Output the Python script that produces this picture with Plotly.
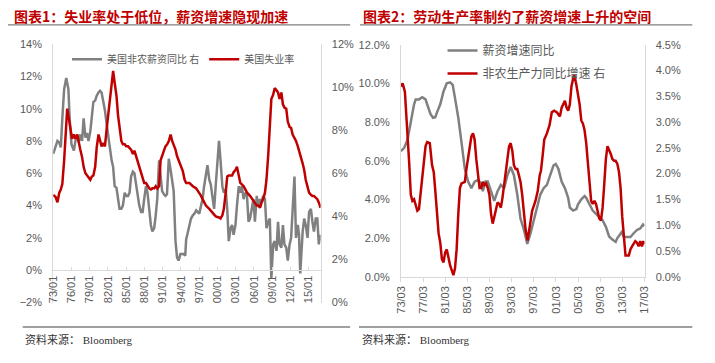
import plotly.graph_objects as go

# ---------------- Panel 1 data ----------------
p1_wage_x = [1973.0, 1973.4, 1973.7, 1974.0, 1974.25, 1974.5, 1974.8, 1975.15, 1975.5, 1975.7,
             1976.0, 1976.4, 1976.65, 1976.95, 1977.2, 1977.45, 1977.75, 1978.0, 1978.3, 1978.55,
             1978.8, 1979.1, 1979.35, 1979.6, 1979.9, 1980.15, 1980.45, 1980.7, 1980.95, 1981.25,
             1981.5, 1981.8, 1982.05, 1982.3, 1982.6, 1982.85, 1983.1, 1983.4, 1983.65, 1983.9,
             1984.2, 1984.45, 1984.75, 1985.0, 1985.3, 1985.55, 1985.8, 1986.1, 1986.35, 1986.6,
             1986.9, 1987.15, 1987.45, 1987.7, 1987.95, 1988.25, 1988.5, 1988.8, 1989.05, 1989.3,
             1989.6, 1989.85, 1990.1, 1990.4, 1990.65, 1990.9, 1991.2, 1991.45, 1991.7, 1992.0,
             1992.3, 1992.55, 1992.8, 1993.1, 1993.35, 1993.6, 1993.9, 1994.15, 1994.45, 1994.7,
             1994.85, 1995.1, 1995.4, 1995.65, 1995.95, 1996.2, 1996.5, 1996.75, 1997.0, 1997.3,
             1997.55, 1997.8, 1998.1, 1998.35, 1998.65, 1998.9, 1999.15, 1999.45, 1999.7, 2000.0,
             2000.25, 2000.5, 2000.8, 2001.05, 2001.35, 2001.6, 2001.85, 2002.15, 2002.4, 2002.65,
             2002.95, 2003.2, 2003.5, 2003.75, 2004.0, 2004.3, 2004.55, 2004.85, 2005.1, 2005.35,
             2005.65, 2005.9, 2006.15, 2006.45, 2006.7, 2007.0, 2007.25, 2007.5, 2007.8, 2008.05,
             2008.35, 2008.6, 2008.85, 2009.15, 2009.4, 2009.7, 2009.95, 2010.2, 2010.5, 2010.75,
             2011.0, 2011.3, 2011.55, 2011.85, 2012.1, 2012.35, 2012.65, 2012.9, 2013.2, 2013.4,
             2013.6, 2014.0, 2014.25, 2014.5, 2014.8, 2015.05, 2015.35, 2015.6, 2015.85, 2016.15,
             2016.4, 2016.65, 2016.94]
p1_wage = [7.2, 7.6, 8.0, 7.9, 7.6, 9.4, 11.2, 11.9, 11.2, 9.4,
           7.8, 7.4, 8.0, 8.4, 7.9, 8.4, 8.0, 9.4, 8.2, 8.5,
           8.0, 8.6, 9.4, 10.4, 10.5, 10.8, 11.0, 11.1, 11.0, 10.4,
           9.9, 9.0, 8.2, 7.6, 6.8, 6.4, 5.2, 5.1, 4.4, 3.8,
           3.8, 4.0, 4.8, 4.6, 4.6, 4.8, 5.8, 6.1, 6.0, 5.4,
           4.8, 4.0, 3.6, 3.6, 4.4, 5.2, 4.8, 3.6, 2.8, 2.4,
           2.6, 3.4, 4.4, 6.8, 5.6, 4.9, 4.7, 4.6, 4.7, 6.9,
           6.2, 5.4, 4.9, 1.8, 0.8, 0.6, 1.0, 1.0, 1.0, 0.9,
           1.9, 2.3, 2.8, 3.2, 3.4, 3.5, 3.7, 3.6, 3.5, 4.0,
           4.4, 5.2, 6.0, 6.5, 5.6, 5.3, 4.6, 3.8, 5.2, 7.0,
           8.0, 6.8, 5.2, 4.8, 5.0, 3.8, 1.8, 2.6, 2.8, 2.2,
           2.8, 4.0, 5.2, 4.8, 5.2, 4.4, 4.8, 4.6, 3.0, 3.2,
           3.8, 4.4, 3.0, 4.6, 4.0, 4.4, 4.2, 4.6, 4.4, 2.6,
           3.0, 3.2, -0.5, 1.6, 1.8, 1.2, 3.0, 1.6, 1.4, 2.8,
           1.6, 1.4, 0.6, 1.6, 2.0, 4.2, 5.8, 2.0, 2.8, 2.2,
           -0.2, 2.4, 3.2, 2.8, 2.0, 3.6, 3.8, 3.0, 2.4, 3.2,
           3.2, 1.6, 2.2]

p1_unemp_x = [1973.0, 1973.4, 1973.7, 1974.0, 1974.25, 1974.5, 1974.8, 1975.05, 1975.3, 1975.6,
              1975.85, 1976.1, 1976.4, 1976.65, 1976.95, 1977.2, 1977.45, 1977.75, 1978.0, 1978.3,
              1978.55, 1978.8, 1979.1, 1979.35, 1979.6, 1979.9, 1980.15, 1980.45, 1980.7, 1980.95,
              1981.25, 1981.5, 1981.8, 1982.05, 1982.3, 1982.6, 1982.85, 1983.1, 1983.4, 1983.65,
              1983.95, 1984.2, 1984.45, 1984.75, 1985.0, 1985.3, 1985.8, 1986.1, 1986.35, 1986.6,
              1986.9, 1987.15, 1987.45, 1987.7, 1987.95, 1988.25, 1988.5, 1988.8, 1989.05, 1989.3,
              1989.6, 1989.85, 1990.1, 1990.4, 1990.65, 1990.95, 1991.2, 1991.45, 1991.75, 1992.0,
              1992.3, 1992.55, 1992.8, 1993.1, 1993.35, 1993.6, 1993.9, 1994.3, 1994.6, 1994.85,
              1995.4, 1995.95, 1996.5, 1997.0, 1997.3, 1997.55, 1997.8, 1998.1, 1998.65, 1999.15,
              1999.7, 2000.25, 2000.5, 2000.8, 2001.05, 2001.35, 2001.6, 2001.85, 2002.4, 2002.65,
              2002.95, 2003.2, 2003.5, 2003.75, 2004.3, 2004.85, 2005.35, 2005.9, 2006.45, 2006.7,
              2007.0, 2007.25, 2007.5, 2007.8, 2008.05, 2008.35, 2008.6, 2008.85, 2009.15, 2009.4,
              2009.7, 2009.95, 2010.2, 2010.5, 2010.75, 2011.0, 2011.3, 2011.55, 2011.85, 2012.1,
              2012.35, 2012.65, 2012.9, 2013.2, 2013.45, 2013.7, 2014.0, 2014.25, 2014.5, 2014.8,
              2015.05, 2015.35, 2015.6, 2015.85, 2016.15, 2016.4, 2016.65, 2016.94]
p1_unemp = [5.0, 4.9, 4.65, 5.1, 5.25, 5.5, 6.6, 8.1, 9.0, 8.5,
            8.1, 7.6, 7.8, 7.6, 7.8, 7.35, 7.1, 6.75, 6.3, 6.0,
            5.9, 5.85, 5.7, 5.85, 5.9, 6.3, 7.2, 7.8, 7.5, 7.25,
            7.4, 7.25, 8.1, 8.7, 9.45, 9.9, 10.75, 10.2, 9.6, 8.7,
            8.1, 7.5, 7.35, 7.35, 7.25, 7.25, 7.1, 6.9, 7.05, 6.8,
            6.6, 6.3, 6.0, 5.8, 5.55, 5.55, 5.4, 5.3, 5.25, 5.3,
            5.3, 5.4, 5.3, 5.4, 6.6, 6.9, 7.05, 7.25, 7.35, 7.5,
            7.8, 7.5, 7.35, 7.1, 6.8, 6.6, 6.45, 6.1, 5.7, 5.55,
            5.55, 5.4, 5.3, 5.1, 4.95, 4.8, 4.65, 4.5, 4.35, 4.2,
            4.0, 3.95, 3.9, 4.05, 4.35, 5.1, 5.85, 5.9, 5.9, 6.05,
            6.15, 6.3, 5.85, 5.55, 5.4, 5.1, 4.95, 4.7, 4.5, 4.5,
            4.4, 4.65, 4.8, 5.1, 5.7, 6.9, 8.4, 9.45, 9.65, 9.95,
            9.85, 9.75, 9.45, 9.75, 9.2, 9.05, 9.0, 8.4, 8.15, 8.1,
            7.8, 7.65, 7.5, 7.25, 7.05, 6.75, 6.45, 6.15, 5.7, 5.4,
            5.1, 5.0, 4.95, 4.95, 4.85, 4.8, 4.65, 4.4]

p1_tickvals = [1973, 1976, 1979, 1982, 1985, 1988, 1991, 1994, 1997, 2000, 2003, 2006, 2009, 2012, 2015]
p1_ticktext = ["73/01", "76/01", "79/01", "82/01", "85/01", "88/01", "91/01", "94/01",
               "97/01", "00/01", "03/01", "06/01", "09/01", "12/01", "15/01"]

# ---------------- Panel 2 data ----------------
p2_wage_x = [1973.17, 1973.76, 1974.35, 1974.95, 1975.54, 1975.83, 1976.42, 1977.02, 1977.61, 1977.9,
             1978.5, 1978.97, 1979.38, 1979.68, 1980.27, 1980.86, 1981.45, 1982.05, 1982.52, 1982.93,
             1983.53, 1984.12, 1984.71, 1985.3, 1985.89, 1986.48, 1987.08, 1987.67, 1987.96, 1988.44,
             1988.85, 1989.44, 1990.03, 1990.62, 1991.22, 1991.81, 1992.4, 1992.99, 1993.58, 1994.18,
             1994.77, 1995.39, 1995.99, 1996.58, 1997.17, 1997.76, 1998.35, 1998.95, 1999.54, 2000.13,
             2000.72, 2001.13, 2001.61, 2002.2, 2002.79, 2003.38, 2003.68, 2004.27, 2004.86, 2005.16,
             2005.75, 2006.34, 2006.64, 2007.23, 2007.82, 2008.41, 2009.0, 2009.6, 2010.19, 2010.78,
             2011.37, 2011.96, 2012.26, 2013.03, 2013.44, 2014.03, 2014.63, 2015.22, 2015.81, 2016.4,
             2016.9, 2017.17]
p2_wage = [6.5, 6.67, 7.08, 8.08, 8.92, 9.17, 9.17, 9.28, 9.17, 8.92,
           8.42, 8.22, 8.25, 8.5, 8.92, 9.58, 10.0, 10.05, 9.92, 9.25,
           8.22, 6.92, 5.58, 4.92, 4.58, 4.92, 5.0, 4.83, 4.42, 4.92,
           4.92, 4.42, 3.92, 4.42, 4.75, 4.58, 5.25, 5.67, 5.25, 4.25,
           3.0, 2.42, 1.7, 2.25, 2.92, 3.58, 4.25, 4.58, 4.75, 5.25,
           5.75, 5.83, 5.58, 4.92, 4.58, 4.08, 3.58, 3.42, 3.5, 3.75,
           4.0, 4.17, 4.08, 3.75, 3.42, 3.25, 3.08, 2.92, 2.58, 2.08,
           1.92, 1.8, 2.0, 2.3, 2.05, 2.05, 2.05, 2.25, 2.42, 2.5,
           2.7, 2.62]

p2_prod_x = [1973.17, 1973.47, 1973.88, 1974.24, 1974.65, 1974.95, 1975.24, 1975.54, 1975.83, 1976.13,
             1976.42, 1976.72, 1977.19, 1977.61, 1977.9, 1978.38, 1978.79, 1979.09, 1979.38, 1979.68,
             1979.97, 1980.27, 1980.57, 1980.86, 1981.16, 1981.45, 1981.75, 1982.05, 1982.34, 1982.64,
             1982.93, 1983.23, 1983.53, 1983.82, 1984.12, 1984.71, 1985.0, 1985.3, 1985.6, 1985.89,
             1986.19, 1986.48, 1986.78, 1987.08, 1987.37, 1987.67, 1987.96, 1988.26, 1988.56, 1988.85,
             1989.15, 1989.44, 1989.74, 1990.03, 1990.33, 1990.62, 1990.92, 1991.22, 1991.51, 1991.81,
             1992.1, 1992.4, 1992.7, 1992.99, 1993.29, 1993.58, 1993.88, 1994.18, 1994.47, 1994.77,
             1995.07, 1995.28, 1995.69, 1996.05, 1996.46, 1996.87, 1997.47, 1997.88, 1998.24, 1998.47,
             1998.83, 1999.06, 1999.54, 2000.01, 2000.42, 2000.84, 2001.31, 2001.9, 2002.2, 2002.5,
             2002.79, 2003.09, 2003.38, 2003.68, 2003.97, 2004.27, 2004.5, 2004.86, 2005.16, 2005.45,
             2005.75, 2006.05, 2006.34, 2006.64, 2006.93, 2007.23, 2007.53, 2007.82, 2008.12, 2008.41,
             2008.71, 2009.0, 2009.3, 2009.6, 2009.89, 2010.19, 2010.48, 2010.78, 2011.08, 2011.37,
             2011.67, 2011.96, 2012.26, 2012.56, 2012.85, 2013.15, 2013.44, 2013.74, 2014.33, 2014.63,
             2014.92, 2015.22, 2015.51, 2015.81, 2016.11, 2016.4, 2016.7, 2016.95, 2017.17]
p2_prod = [3.69, 3.75, 3.59, 3.03, 2.22, 1.59, 1.47, 1.5, 1.41, 1.28,
           1.31, 1.59, 2.09, 2.53, 2.61, 2.59, 2.16, 2.03, 1.66, 1.22,
           0.84, 0.66, 0.34, 0.28, 0.47, 0.53, 0.34, 0.22, 0.13, 0.03,
           0.16, 0.53, 1.22, 1.72, 1.81, 1.84, 2.09, 2.28, 2.47, 2.72,
           2.78, 2.66, 2.28, 2.03, 1.72, 1.72, 1.84, 1.78, 1.81, 1.72,
           1.59, 1.22, 1.03, 1.16, 1.34, 1.44, 1.41, 1.34, 1.53, 1.75,
           1.97, 2.28, 2.53, 2.59, 2.44, 2.16, 2.09, 2.09, 1.97, 1.84,
           1.59, 1.34, 0.91, 0.7, 0.97, 1.28, 1.47, 1.66, 1.97, 2.06,
           2.41, 2.66, 2.78, 2.94, 3.19, 3.22, 3.19, 3.11, 3.28, 3.36,
           3.41, 3.28, 3.22, 3.34, 3.69, 3.84, 3.91, 3.72, 3.53, 3.34,
           3.03, 2.97, 2.84, 2.59, 2.22, 1.78, 1.47, 1.41, 1.47, 1.41,
           1.28, 1.13, 1.09, 1.34, 1.78, 2.28, 2.53, 2.47, 2.38, 2.28,
           2.25, 2.25, 2.19, 2.03, 1.72, 1.16, 0.69, 0.41, 0.41, 0.53,
           0.59, 0.63, 0.69, 0.66, 0.59, 0.69, 0.59, 0.69, 0.63]

p2_tickvals = [1973.17, 1977.17, 1981.17, 1985.17, 1989.17, 1993.17, 1997.17, 2001.17, 2005.17,
               2009.17, 2013.17, 2017.17]
p2_ticktext = ["73/03", "77/03", "81/03", "85/03", "89/03", "93/03", "97/03", "01/03", "05/03",
               "09/03", "13/03", "17/03"]

# ---------------- Figure ----------------
W, H = 715, 363
def px(x):
    return x / W
def py(y):
    return 1 - y / H

GRAY = "#808080"
RED = "#c00000"
AXC = "#d9d9d9"
TXT = "#595959"
tickfont = dict(family="Liberation Sans, Noto Sans CJK SC", size=11, color=TXT)

fig = go.Figure()
fig.add_trace(go.Scatter(x=p1_wage_x, y=p1_wage, xaxis="x", yaxis="y", mode="lines",
                         name="美国非农薪资同比 右", line=dict(color=GRAY, width=2.5),
                         legend="legend"))
fig.add_trace(go.Scatter(x=p1_unemp_x, y=p1_unemp, xaxis="x", yaxis="y2", mode="lines",
                         name="美国失业率", line=dict(color=RED, width=2.5),
                         legend="legend"))
fig.add_trace(go.Scatter(x=p2_wage_x, y=p2_wage, xaxis="x2", yaxis="y3", mode="lines",
                         name="薪资增速同比", line=dict(color=GRAY, width=2.5),
                         legend="legend2", legendgroup="a"))
fig.add_trace(go.Scatter(x=p2_prod_x, y=p2_prod, xaxis="x2", yaxis="y4", mode="lines",
                         name="非农生产力同比增速 右", line=dict(color=RED, width=2.5),
                         legend="legend2", legendgroup="b"))

common_y = dict(showgrid=False, zeroline=False, showline=True, linecolor=AXC, linewidth=1,
                tickfont=tickfont, ticks="", ticklabelstandoff=8)

fig.update_layout(
    width=W, height=H,
    margin=dict(l=0, r=0, t=0, b=0),
    paper_bgcolor="white", plot_bgcolor="white",
    font=dict(family="Liberation Sans, Noto Sans CJK SC", color=TXT),
    xaxis=dict(domain=[px(48), px(320)], range=[1973, 2016.95], anchor="free",
               position=py(273.3), tickmode="array", tickvals=p1_tickvals, ticktext=p1_ticktext,
               tickangle=-90, showline=True, linecolor=AXC, linewidth=1, ticks="inside",
               ticklen=3, tickcolor=AXC, showgrid=False, zeroline=False, tickfont=tickfont),
    yaxis=dict(domain=[py(306.7), py(39.3)], range=[-2, 14], dtick=2, tick0=0,
               ticksuffix="%", anchor="x", **common_y),
    yaxis2=dict(overlaying="y", side="right", anchor="x", range=[0, 12], dtick=2, tick0=0,
                ticksuffix="%", **common_y),
    xaxis2=dict(domain=[px(401.7), px(649.4)], range=[1973.17, 2017.17], anchor="y3",
                tickmode="array", tickvals=p2_tickvals, ticktext=p2_ticktext, tickangle=-90,
                showline=True, linecolor=AXC, linewidth=1, ticks="outside", ticklen=4,
                tickcolor=AXC, showgrid=False, zeroline=False, tickfont=tickfont),
    yaxis3=dict(domain=[py(280), py(40)], range=[0, 12], dtick=2, tick0=0, tickformat=".1f",
                ticksuffix="%", anchor="x2", **common_y),
    yaxis4=dict(overlaying="y3", side="right", anchor="x2", range=[0, 4.5], dtick=0.5, tick0=0,
                tickformat=".1f", ticksuffix="%", **common_y),
    legend=dict(orientation="h", x=px(62), y=py(55), xanchor="left", yanchor="middle",
                font=dict(size=10, color=TXT, family="Noto Sans CJK SC"),
                bgcolor="rgba(0,0,0,0)", borderwidth=0),
    legend2=dict(orientation="v", x=px(444), y=py(31), xanchor="left", yanchor="top",
                 font=dict(size=12, color=TXT, family="Noto Sans CJK SC"),
                 bgcolor="rgba(0,0,0,0)", borderwidth=0, tracegroupgap=4),
    showlegend=True,
)

title_font = dict(family="Noto Sans CJK SC", size=14, color=RED)
src_font = dict(family="Liberation Serif, Noto Sans CJK SC", size=11, color="#333333")
annots = [
    dict(text="<b>图表1：失业率处于低位，薪资增速隐现加速</b>", x=px(6), y=py(10),
         xanchor="left", yanchor="middle", font=title_font),
    dict(text="<b>图表2：劳动生产率制约了薪资增速上升的空间</b>", x=px(361), y=py(10),
         xanchor="left", yanchor="middle", font=title_font),
    dict(text="资料来源： Bloomberg", x=px(17), y=py(345), xanchor="left", yanchor="middle",
         font=src_font),
    dict(text="资料来源： Bloomberg", x=px(360), y=py(345), xanchor="left", yanchor="middle",
         font=src_font),
]
for a in annots:
    a.update(xref="paper", yref="paper", showarrow=False)
fig.update_layout(annotations=annots)

line_c = "#7f7f7f"
shapes = [
    dict(type="line", x0=px(2), x1=px(350), y0=py(19.5), y1=py(19.5)),
    dict(type="line", x0=px(360), x1=px(698), y0=py(19.5), y1=py(19.5)),
    dict(type="line", x0=px(17), x1=px(350), y0=py(332), y1=py(332)),
    dict(type="line", x0=px(359), x1=px(698), y0=py(332), y1=py(332)),
]
for s in shapes:
    s.update(xref="paper", yref="paper", layer="above", line=dict(color=line_c, width=1.3))
fig.update_layout(shapes=shapes)

fig.write_html("out.html", config={"displayModeBar": False},
               post_script="document.body.style.margin='0px';document.body.style.overflow='hidden';")
